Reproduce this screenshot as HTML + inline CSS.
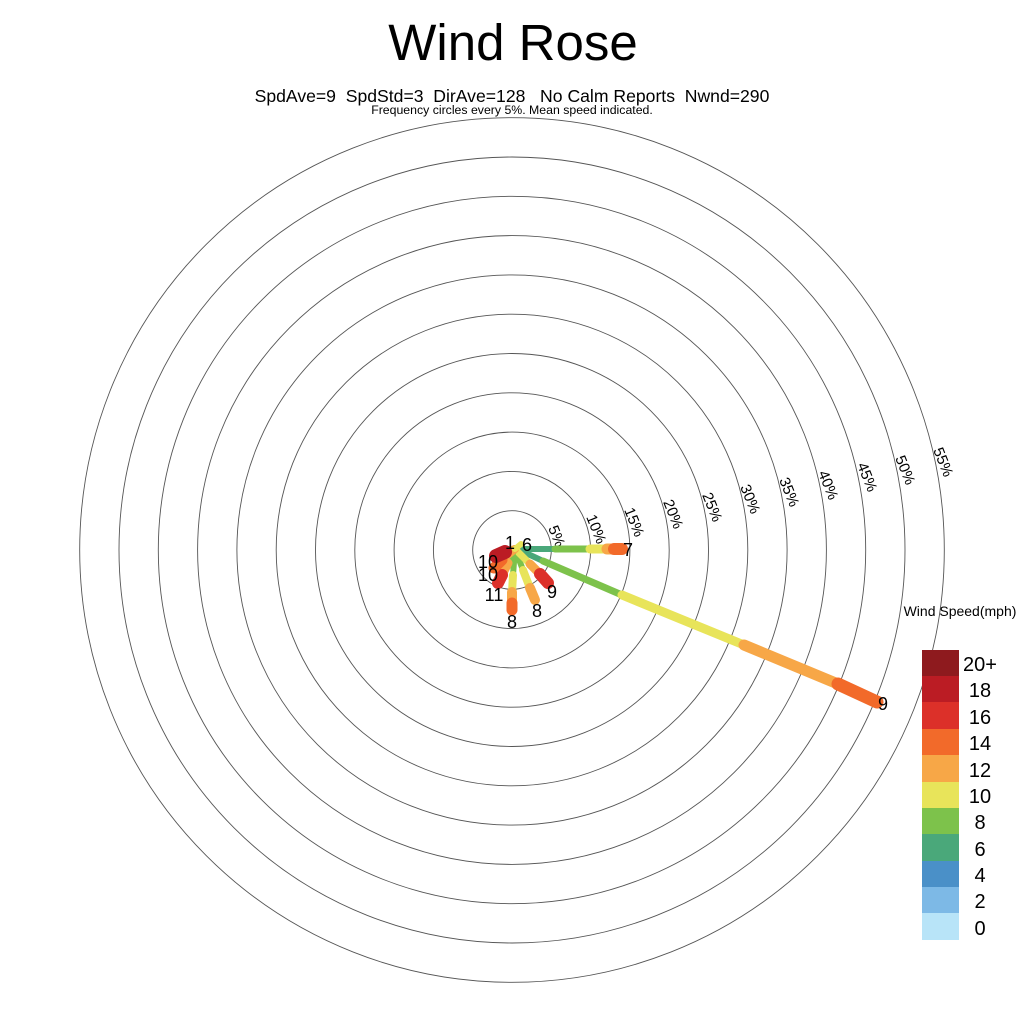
<!DOCTYPE html>
<html><head><meta charset="utf-8"><style>
html,body{margin:0;padding:0;background:#fff}
svg{display:block}
text{font-family:"Liberation Sans",sans-serif;fill:#000}
</style></head><body>
<svg width="1024" height="1024" viewBox="0 0 1024 1024" xmlns="http://www.w3.org/2000/svg">
<rect width="1024" height="1024" fill="#fff"/>
<text x="513" y="60" font-size="51" text-anchor="middle">Wind Rose</text>
<text x="512" y="102" font-size="17.6" text-anchor="middle" xml:space="preserve">SpdAve=9  SpdStd=3  DirAve=128   No Calm Reports  Nwnd=290</text>
<text x="512" y="114" font-size="12.3" text-anchor="middle">Frequency circles every 5%. Mean speed indicated.</text>
<g fill="none" stroke="#555" stroke-width="0.9">
<circle cx="512" cy="550" r="39.3"/><circle cx="512" cy="550" r="78.6"/><circle cx="512" cy="550" r="117.9"/>
<circle cx="512" cy="550" r="157.2"/><circle cx="512" cy="550" r="196.5"/><circle cx="512" cy="550" r="235.8"/>
<circle cx="512" cy="550" r="275.1"/><circle cx="512" cy="550" r="314.4"/><circle cx="512" cy="550" r="353.7"/>
<circle cx="512" cy="550" r="393"/><circle cx="512" cy="550" r="432.3"/>
</g>
<g font-size="15">
<text transform="translate(548,528) rotate(68)">5%</text>
<text transform="translate(586,517) rotate(68)">10%</text>
<text transform="translate(624,510) rotate(68)">15%</text>
<text transform="translate(663,502) rotate(68)">20%</text>
<text transform="translate(702,495) rotate(68)">25%</text>
<text transform="translate(740,487) rotate(68)">30%</text>
<text transform="translate(779,480) rotate(68)">35%</text>
<text transform="translate(818,473) rotate(68)">40%</text>
<text transform="translate(857,465) rotate(68)">45%</text>
<text transform="translate(895,458) rotate(68)">50%</text>
<text transform="translate(933,450) rotate(68)">55%</text>
</g>
<g stroke-linecap="round" fill="none">
<line x1="515" y1="548" x2="543" y2="561" stroke="#4aa87a" stroke-width="6"/>
<line x1="543" y1="561" x2="622" y2="595" stroke="#7dc24b" stroke-width="7"/>
<line x1="622" y1="595" x2="744" y2="645" stroke="#e8e45a" stroke-width="9"/>
<line x1="744" y1="645" x2="838" y2="684" stroke="#f7a747" stroke-width="11"/>
<line x1="838" y1="684" x2="877" y2="702" stroke="#f26a2a" stroke-width="13"/>
<line x1="515" y1="549" x2="555" y2="549" stroke="#4aa87a" stroke-width="6"/>
<line x1="555" y1="549" x2="590" y2="549" stroke="#7dc24b" stroke-width="7"/>
<line x1="590" y1="549" x2="607" y2="549" stroke="#e8e45a" stroke-width="9"/>
<line x1="607" y1="549" x2="614" y2="549" stroke="#f7a747" stroke-width="11"/>
<line x1="614" y1="549" x2="622" y2="549" stroke="#f26a2a" stroke-width="12"/>
<line x1="515" y1="549" x2="513" y2="575" stroke="#7dc24b" stroke-width="6"/>
<line x1="513" y1="575" x2="512" y2="592" stroke="#e8e45a" stroke-width="8"/>
<line x1="512" y1="592" x2="512" y2="603" stroke="#f7a747" stroke-width="10"/>
<line x1="512" y1="603" x2="512" y2="610" stroke="#f26a2a" stroke-width="11"/>
<line x1="515" y1="549" x2="523" y2="570" stroke="#7dc24b" stroke-width="6"/>
<line x1="523" y1="570" x2="530" y2="588" stroke="#e8e45a" stroke-width="8"/>
<line x1="530" y1="588" x2="535" y2="600" stroke="#f7a747" stroke-width="10"/>
<line x1="515" y1="549" x2="530" y2="564" stroke="#e8e45a" stroke-width="7"/>
<line x1="530" y1="564" x2="540" y2="574" stroke="#f7a747" stroke-width="9"/>
<line x1="540" y1="574" x2="548" y2="583" stroke="#dc3029" stroke-width="12"/>
<line x1="515" y1="549" x2="508" y2="563" stroke="#7dc24b" stroke-width="6"/>
<line x1="508" y1="563" x2="502" y2="575" stroke="#f7a747" stroke-width="9"/>
<line x1="502" y1="575" x2="498" y2="583" stroke="#dc3029" stroke-width="12"/>
<line x1="515" y1="549" x2="502" y2="560" stroke="#f7a747" stroke-width="8"/>
<line x1="502" y1="560" x2="494" y2="568" stroke="#f26a2a" stroke-width="11"/>
<line x1="515" y1="549" x2="505" y2="552" stroke="#f7a747" stroke-width="8"/>
<line x1="505" y1="552" x2="496" y2="556" stroke="#bb1c24" stroke-width="14"/>
<line x1="515" y1="549" x2="521" y2="544" stroke="#e8e45a" stroke-width="6"/>
</g>
<g font-size="18">
<text x="628" y="556" text-anchor="middle">7</text>
<text x="883" y="710" text-anchor="middle">9</text>
<text x="512" y="628" text-anchor="middle">8</text>
<text x="537" y="617" text-anchor="middle">8</text>
<text x="552" y="598" text-anchor="middle">9</text>
<text x="494" y="601" text-anchor="middle">11</text>
<text x="488" y="581" text-anchor="middle">10</text>
<text x="488" y="568" text-anchor="middle">10</text>
<text x="510" y="549" text-anchor="middle">1</text>
<text x="527" y="551" text-anchor="middle">6</text>
</g>
<text x="960" y="616" font-size="14" text-anchor="middle">Wind Speed(mph)</text>
<g>
<rect x="922" y="650" width="37" height="27" fill="#8e1a1e"/>
<rect x="922" y="676" width="37" height="27" fill="#bb1c24"/>
<rect x="922" y="702" width="37" height="27" fill="#dc3029"/>
<rect x="922" y="729" width="37" height="27" fill="#f26a2a"/>
<rect x="922" y="755" width="37" height="27" fill="#f7a747"/>
<rect x="922" y="782" width="37" height="27" fill="#e8e45a"/>
<rect x="922" y="808" width="37" height="27" fill="#7dc24b"/>
<rect x="922" y="834" width="37" height="27" fill="#4aa87a"/>
<rect x="922" y="861" width="37" height="27" fill="#4a90c8"/>
<rect x="922" y="887" width="37" height="27" fill="#7db9e6"/>
<rect x="922" y="913" width="37" height="27" fill="#b8e4f8"/>
</g>
<g font-size="20" text-anchor="middle">
<text x="980" y="671">20+</text>
<text x="980" y="697">18</text>
<text x="980" y="724">16</text>
<text x="980" y="750">14</text>
<text x="980" y="777">12</text>
<text x="980" y="803">10</text>
<text x="980" y="829">8</text>
<text x="980" y="856">6</text>
<text x="980" y="882">4</text>
<text x="980" y="908">2</text>
<text x="980" y="935">0</text>
</g>
</svg>
</body></html>
